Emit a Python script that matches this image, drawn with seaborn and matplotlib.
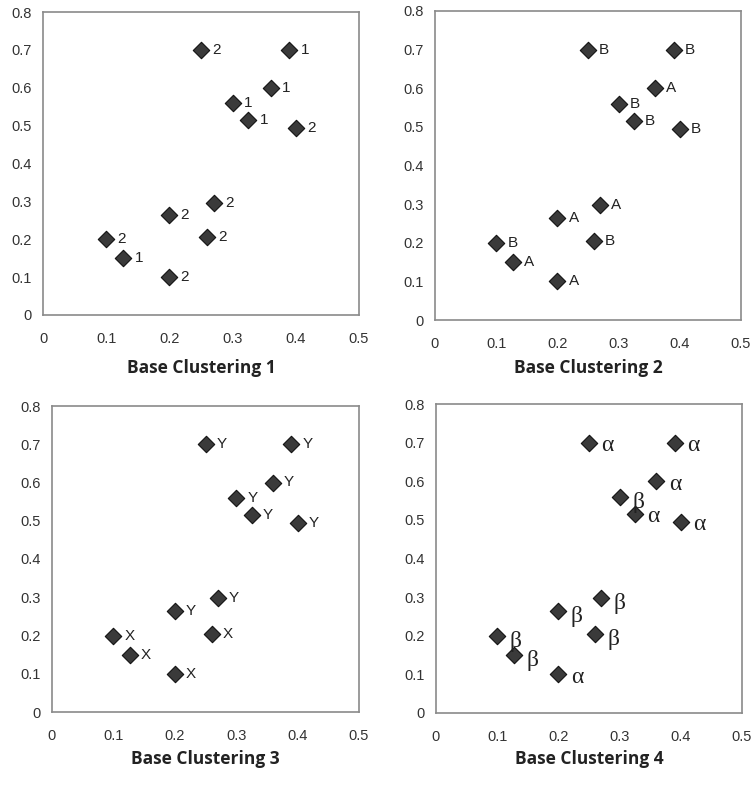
import matplotlib
matplotlib.use("Agg")
import matplotlib.pyplot as plt
import seaborn as sns
import pandas as pd

x_vals = [0.25, 0.39, 0.36, 0.30, 0.325, 0.40, 0.27, 0.20, 0.26, 0.10, 0.127, 0.20]
y_vals = [0.70, 0.70, 0.60, 0.56, 0.515, 0.495, 0.297, 0.263, 0.205, 0.20, 0.15, 0.10]
labels1 = ["2", "1", "1", "1", "1", "2", "2", "2", "2", "2", "1", "2"]
labels2 = ["B", "B", "A", "B", "B", "B", "A", "A", "B", "B", "A", "A"]
labels3 = ["Y", "Y", "Y", "Y", "Y", "Y", "Y", "Y", "X", "X", "X", "X"]
labels4 = ["α", "α", "α", "β", "α", "α", "β", "β", "β", "β", "β", "α"]
titles = ["Base Clustering 1", "Base Clustering 2", "Base Clustering 3", "Base Clustering 4"]
x_ticks = [0, 0.1, 0.2, 0.3, 0.4, 0.5]
x_ticklabels = ["0", "0.1", "0.2", "0.3", "0.4", "0.5"]
y_ticks = [0, 0.1, 0.2, 0.3, 0.4, 0.5, 0.6, 0.7, 0.8]
y_ticklabels = ["0", "0.1", "0.2", "0.3", "0.4", "0.5", "0.6", "0.7", "0.8"]

sns.set_style("white")
plt.rcParams["font.family"] = ["Liberation Sans", "DejaVu Sans"]

W, H = 754, 785
fig = plt.figure(figsize=(W / 100, H / 100), dpi=100)

# axes boxes in pixels: left, top, right, bottom
boxes = [(43, 12, 359, 315), (435, 11, 741, 320), (52, 406, 359, 712), (436, 404, 742, 713)]
title_y = [368, 368, 759, 759]
all_labels = [labels1, labels2, labels3, labels4]

for i, (l, t, r, b) in enumerate(boxes):
    ax = fig.add_axes([l / W, 1 - b / H, (r - l) / W, (b - t) / H])
    df = pd.DataFrame({"x": x_vals, "y": y_vals, "lab": all_labels[i]})
    sns.scatterplot(data=df, x="x", y="y", marker="D", s=70, color="#3a3a3a",
                    edgecolor="#111111", linewidth=0.8, ax=ax, legend=False, zorder=3)
    ax.set_xlim(0, 0.5)
    ax.set_ylim(0, 0.8)
    ax.set_xticks(x_ticks)
    ax.set_xticklabels(x_ticklabels)
    ax.set_yticks(y_ticks)
    ax.set_yticklabels(y_ticklabels)
    ax.tick_params(axis="both", labelsize=10.5, colors="#333333", length=2.5,
                   direction="in", width=0.6)
    ax.tick_params(axis="x", pad=12)
    ax.tick_params(axis="y", pad=8)
    ax.tick_params(axis="both", color="#bbbbbb")
    ax.set_xlabel("")
    ax.set_ylabel("")
    for sp in ax.spines.values():
        sp.set_color("#8a8a8a")
        sp.set_linewidth(1.2)
    for xv, yv, lab in zip(x_vals, y_vals, all_labels[i]):
        if i == 3:
            dy = -4 if lab == "β" else -2
            ax.annotate(lab, (xv, yv), xytext=(9, dy), textcoords="offset points",
                        fontsize=17, family=["Liberation Serif", "DejaVu Serif"],
                        color="#222222", va="center", ha="left")
        else:
            ax.annotate(lab, (xv, yv), xytext=(8, 0), textcoords="offset points",
                        fontsize=11, color="#222222", va="center", ha="left")
    cx = (l + r) / 2
    fig.text(cx / W, 1 - title_y[i] / H, titles[i], ha="center", va="center",
             fontsize=12.5, fontweight="bold", family=["Open Sans", "DejaVu Sans"],
             color="#222222")

fig.savefig("out.png", dpi=100, facecolor="white")
